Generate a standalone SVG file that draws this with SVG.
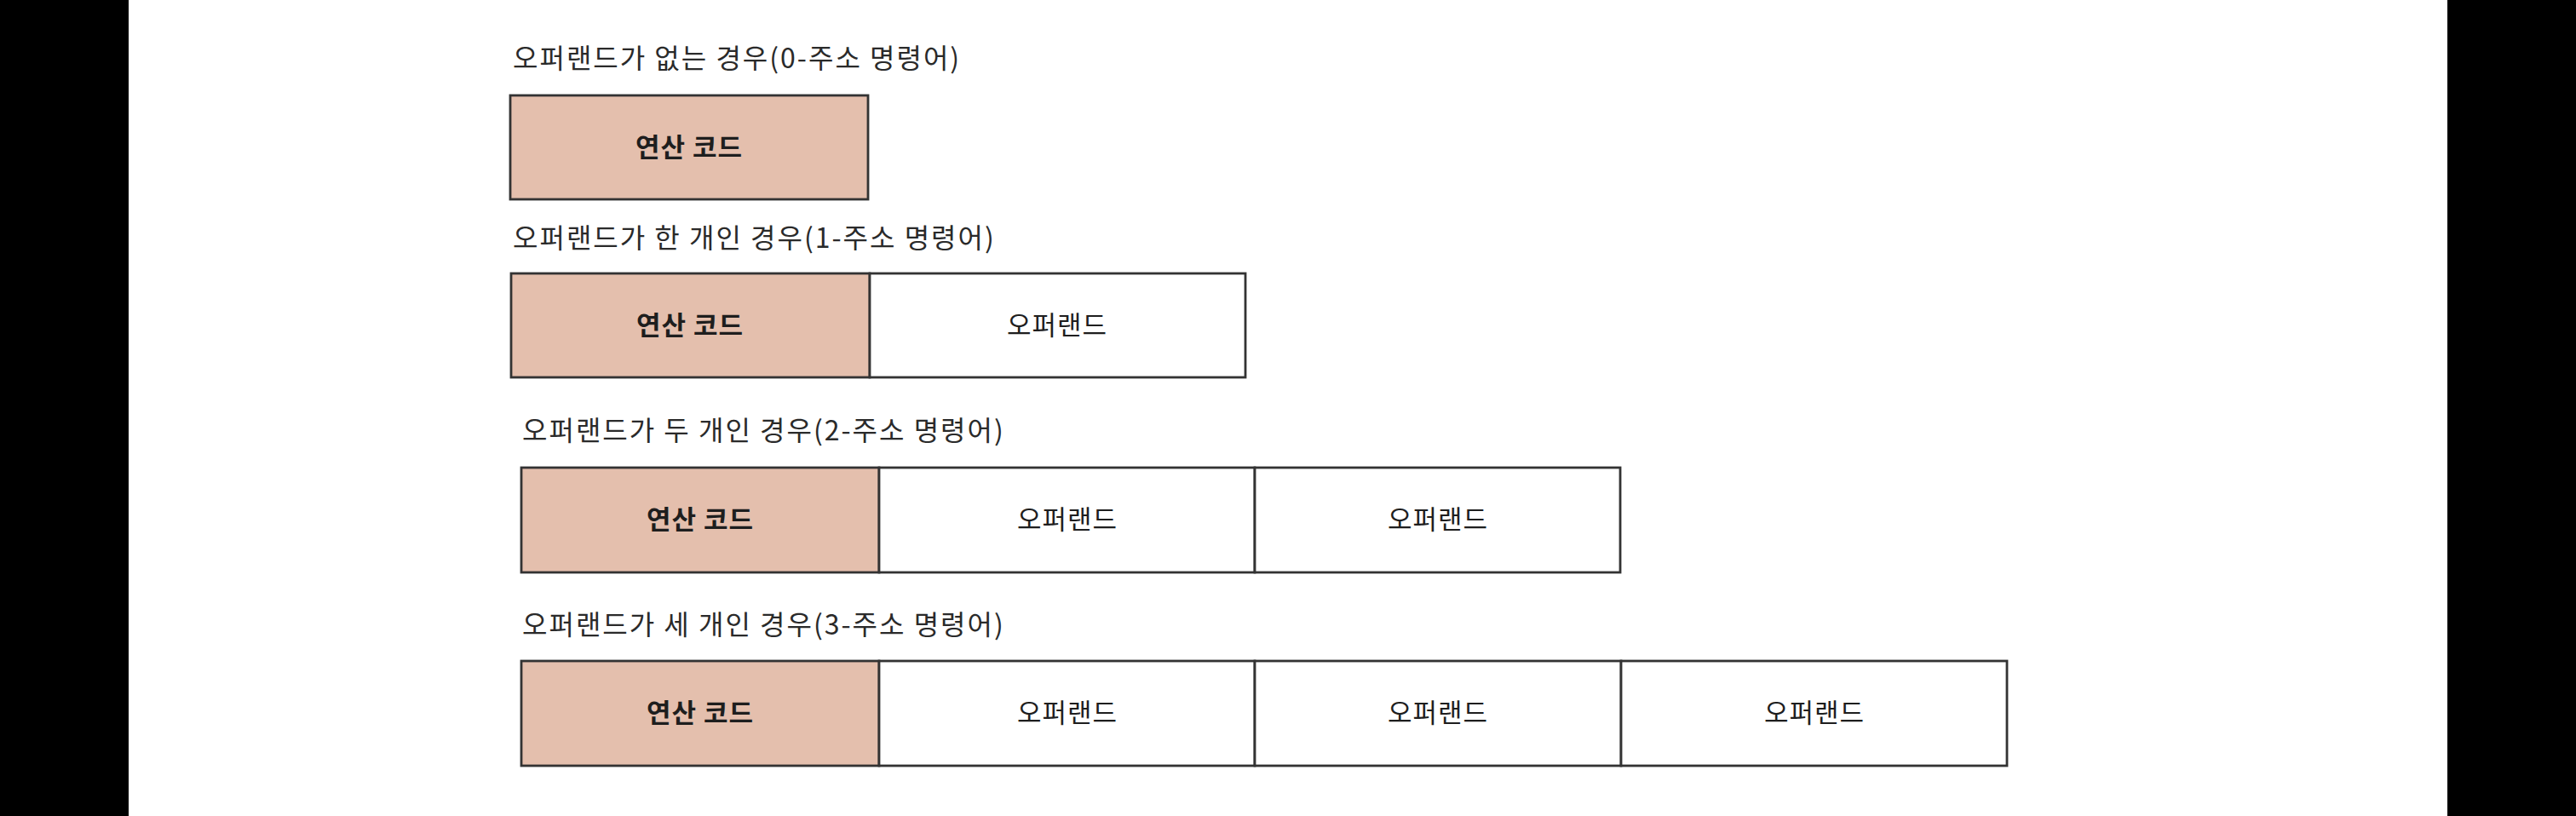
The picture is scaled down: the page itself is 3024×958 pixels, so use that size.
<svg xmlns="http://www.w3.org/2000/svg" width="3024" height="958" viewBox="0 0 3024 958">
<style>
.title{font-family:"Noto Sans CJK KR","Noto Sans",sans-serif;font-size:32px;letter-spacing:2px;fill:#2a2a2a}
.lbl{font-family:"Noto Sans CJK KR","Noto Sans",sans-serif;font-size:31px;letter-spacing:1px;fill:#1e1e1e;text-anchor:middle}
.op{font-weight:bold}
.opc{fill:#e4bfad;stroke:#333333;stroke-width:2.8}
.opd{fill:#ffffff;stroke:#333333;stroke-width:2.8}
</style>
<rect x="0" y="0" width="3024" height="958" fill="#ffffff"/>
<rect x="0" y="0" width="151" height="958" fill="#000000"/>
<rect x="2873" y="0" width="151" height="958" fill="#000000"/>

<g id="row0">
<text class="title" x="602" y="80">오퍼랜드가 없는 경우(0-주소 명령어)</text>
<g id="r0-opcode"><rect class="opc" x="599" y="112" width="420" height="122"/><text class="lbl op" x="809" y="184">연산 코드</text></g>
</g>

<g id="row1">
<text class="title" x="602" y="291">오퍼랜드가 한 개인 경우(1-주소 명령어)</text>
<g id="r1-opcode"><rect class="opc" x="600" y="321" width="421" height="122"/><text class="lbl op" x="810" y="393">연산 코드</text></g>
<g id="r1-operand1"><rect class="opd" x="1021" y="321" width="441" height="122"/><text class="lbl" x="1241" y="393">오퍼랜드</text></g>
</g>

<g id="row2">
<text class="title" x="613" y="517">오퍼랜드가 두 개인 경우(2-주소 명령어)</text>
<g id="r2-opcode"><rect class="opc" x="612" y="549" width="420" height="123"/><text class="lbl op" x="822" y="621">연산 코드</text></g>
<g id="r2-operand1"><rect class="opd" x="1032" y="549" width="441" height="123"/><text class="lbl" x="1253" y="621">오퍼랜드</text></g>
<g id="r2-operand2"><rect class="opd" x="1473" y="549" width="429" height="123"/><text class="lbl" x="1688" y="621">오퍼랜드</text></g>
</g>

<g id="row3">
<text class="title" x="613" y="745">오퍼랜드가 세 개인 경우(3-주소 명령어)</text>
<g id="r3-opcode"><rect class="opc" x="612" y="776" width="420" height="123"/><text class="lbl op" x="822" y="848">연산 코드</text></g>
<g id="r3-operand1"><rect class="opd" x="1032" y="776" width="441" height="123"/><text class="lbl" x="1253" y="848">오퍼랜드</text></g>
<g id="r3-operand2"><rect class="opd" x="1473" y="776" width="430" height="123"/><text class="lbl" x="1688" y="848">오퍼랜드</text></g>
<g id="r3-operand3"><rect class="opd" x="1903" y="776" width="453" height="123"/><text class="lbl" x="2130" y="848">오퍼랜드</text></g>
</g>

<g id="connectors"></g>
</svg>
